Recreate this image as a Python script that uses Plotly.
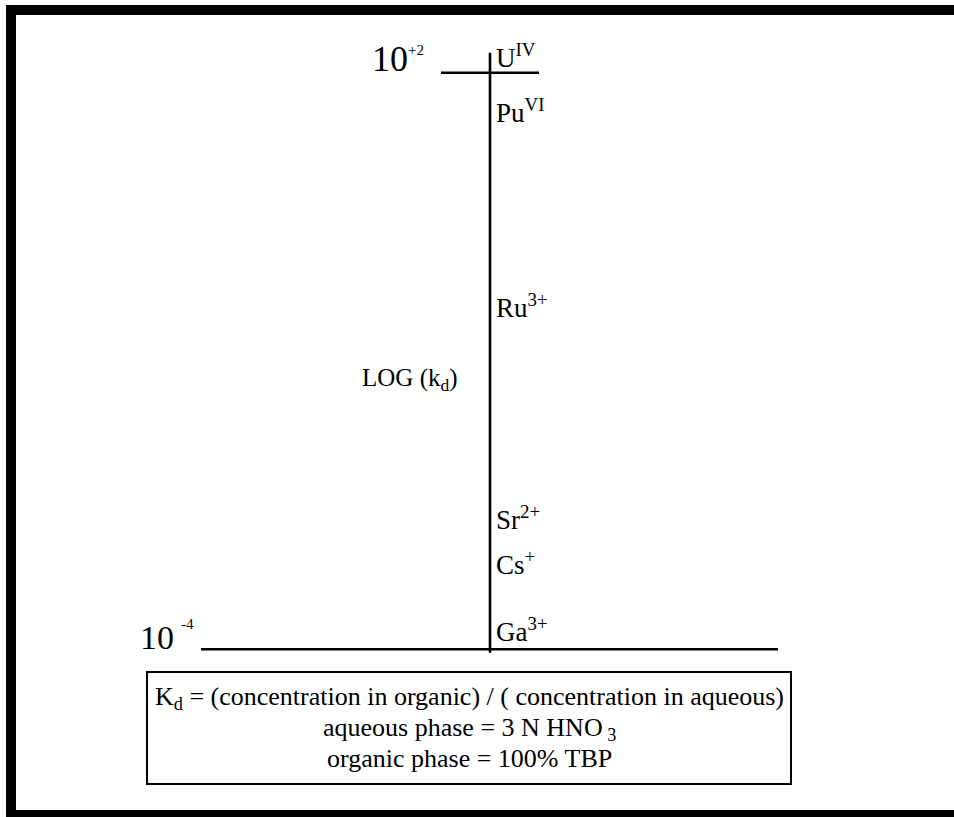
import plotly.graph_objects as go

# ---------------- data ----------------
ions = ["U<sup>IV</sup>", "Pu<sup>VI</sup>", "Ru<sup>3+</sup>",
        "Sr<sup>2+</sup>", "Cs<sup>+</sup>", "Ga<sup>3+</sup>"]
log_kd = [2.06, 1.49, -0.54, -2.75, -3.22, -3.92]
tick_vals = [2, -4]
tick_base = ["10", "10"]
tick_exp = ["+2", "-4"]
axis_title = "LOG (k<sub>d</sub>)"
note_lines = [
    "K<sub>d</sub> = (concentration in organic) / ( concentration in aqueous)",
    "aqueous phase = 3 N HNO<sub> 3</sub>",
    "organic phase = 100% TBP",
]

# ---------------- layout constants ----------------
W, H = 954, 817
FONT = "Liberation Serif, Times New Roman, serif"
TOP_PX, BOT_PX = 72.7, 649.3            # pixel rows of the max / min tick lines
AXIS_X = 490
PPD = (BOT_PX - TOP_PX) / (max(tick_vals) - min(tick_vals))   # pixels per decade
Y_MAX = max(tick_vals) + TOP_PX / PPD
Y_MIN = max(tick_vals) - (H - TOP_PX) / PPD

tick_line_x = [(441, 539), (201, 778)]
tick_base_right = [410, 176]
tick_base_fs = [36, 34]
tick_exp_left = [406, 179]
tick_exp_rise = [18, 21]
ION_X = 494
ION_FS = 27
EXP_FS = 15
TITLE_FS = 25
NOTE_FS = 26
ASC, DESC = 0.891, 0.216
PAD = 2

def py(p):
    return 1 - p / H

def px(p):
    return p / W

fig = go.Figure()

# vertical axis line
fig.add_trace(go.Scatter(
    x=[AXIS_X, AXIS_X],
    y=[min(tick_vals) - 3.4 / PPD, max(tick_vals) + 20 / PPD],
    mode="lines", line=dict(color="black", width=2.6), hoverinfo="skip"))

# horizontal tick lines
for tv, (x0, x1) in zip(tick_vals, tick_line_x):
    fig.add_trace(go.Scatter(x=[x0, x1], y=[tv, tv], mode="lines",
                             line=dict(color="black", width=2.6), hoverinfo="skip"))

annotations = []
# tick labels
for tv, b, e, xr, xl, bfs, rise in zip(tick_vals, tick_base, tick_exp, tick_base_right,
                                       tick_exp_left, tick_base_fs, tick_exp_rise):
    annotations.append(dict(x=xr, y=tv, xref="x", yref="y", text=b, showarrow=False,
                            xanchor="right", yanchor="bottom",
                            yshift=-(DESC * bfs + PAD - 1),
                            font=dict(family=FONT, size=bfs, color="black")))
    annotations.append(dict(x=xl, y=tv, xref="x", yref="y", text=e, showarrow=False,
                            xanchor="left", yanchor="bottom",
                            yshift=rise - (DESC * EXP_FS + PAD),
                            font=dict(family=FONT, size=EXP_FS, color="black")))

# ion labels
for name, v in zip(ions, log_kd):
    annotations.append(dict(x=ION_X, y=v, xref="x", yref="y", text=name, showarrow=False,
                            xanchor="left", yanchor="bottom",
                            yshift=-(DESC * ION_FS + PAD),
                            font=dict(family=FONT, size=ION_FS, color="black")))

# axis title
annotations.append(dict(x=px(360), y=py(386.7 - ASC * TITLE_FS - PAD), xref="paper", yref="paper",
                        text=axis_title, showarrow=False, xanchor="left", yanchor="top",
                        font=dict(family=FONT, size=TITLE_FS, color="black")))

# note box text
note_baselines = [705, 736, 767]
for line, b in zip(note_lines, note_baselines):
    annotations.append(dict(x=px(469), y=py(b - ASC * NOTE_FS - PAD), xref="paper", yref="paper",
                            text=line, showarrow=False, xanchor="center", yanchor="top",
                            font=dict(family=FONT, size=NOTE_FS, color="black")))

shapes = [
    # frame
    dict(type="rect", xref="paper", yref="paper", x0=px(6), x1=px(16), y0=py(817), y1=py(5),
         fillcolor="black", line=dict(width=0)),
    dict(type="rect", xref="paper", yref="paper", x0=px(6), x1=px(954), y0=py(15), y1=py(5),
         fillcolor="black", line=dict(width=0)),
    dict(type="rect", xref="paper", yref="paper", x0=px(6), x1=px(954), y0=py(817), y1=py(810),
         fillcolor="black", line=dict(width=0)),
    # note box
    dict(type="rect", xref="paper", yref="paper", x0=px(147), x1=px(791), y0=py(784), y1=py(672),
         fillcolor="rgba(0,0,0,0)", line=dict(color="black", width=2)),
]

fig.update_layout(
    width=W, height=H,
    margin=dict(l=0, r=0, t=0, b=0),
    paper_bgcolor="white", plot_bgcolor="white",
    showlegend=False, hovermode=False,
    xaxis=dict(range=[0, W], visible=False, fixedrange=True),
    yaxis=dict(range=[Y_MIN, Y_MAX], visible=False, fixedrange=True),
    annotations=annotations, shapes=shapes,
)

fig.write_html("out.html", config={"displayModeBar": False},
               post_script="document.body.style.margin='0px';document.body.style.overflow='hidden';")
